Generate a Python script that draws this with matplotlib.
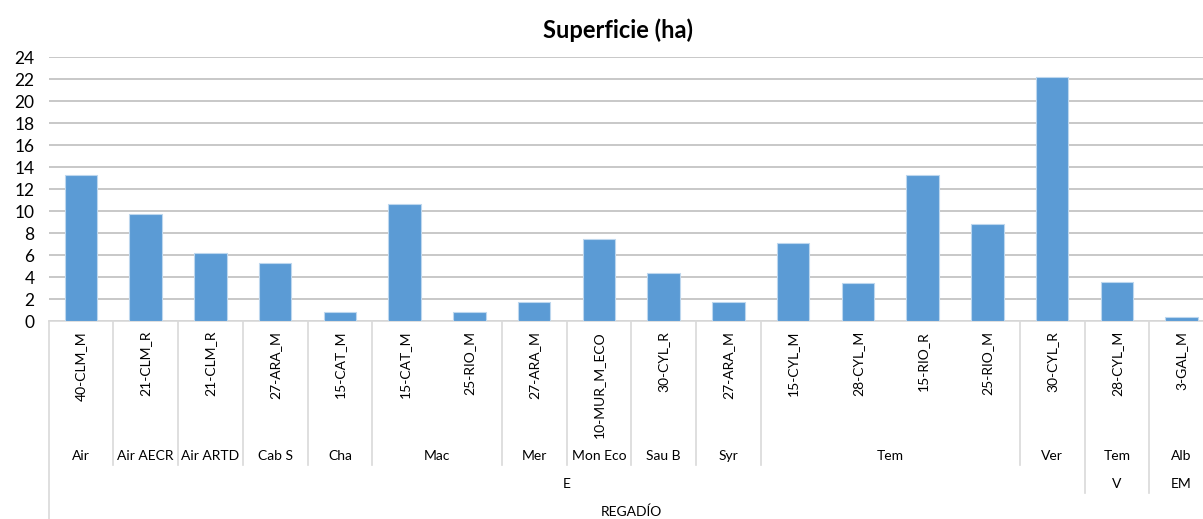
import matplotlib
matplotlib.use("Agg")
import matplotlib.pyplot as plt
import matplotlib.transforms as mtransforms

leaf_labels = ["40-CLM_M", "21-CLM_R", "21-CLM_R", "27-ARA_M", "15-CAT_M",
               "15-CAT_M", "25-RIO_M", "27-ARA_M", "10-MUR_M_ECO", "30-CYL_R",
               "27-ARA_M", "15-CYL_M", "28-CYL_M", "15-RIO_R", "25-RIO_M",
               "30-CYL_R", "28-CYL_M", "3-GAL_M"]
values = [13.3, 9.75, 6.15, 5.3, 0.85, 10.6, 0.85, 1.75, 7.5, 4.4,
          1.75, 7.05, 3.5, 13.3, 8.85, 22.15, 3.55, 0.4]
level2 = [("Air", 1), ("Air AECR", 1), ("Air ARTD", 1), ("Cab S", 1), ("Cha", 1),
          ("Mac", 2), ("Mer", 1), ("Mon Eco", 1), ("Sau B", 1), ("Syr", 1),
          ("Tem", 4), ("Ver", 1), ("Tem", 1), ("Alb", 1)]
level3 = [("E", 16), ("V", 1), ("EM", 1)]
level4 = [("REGADÍO", 18)]
yticks = list(range(0, 25, 2))

W, H = 1203, 519
plt.rcParams['font.family'] = ['Lato', 'DejaVu Sans']
fig = plt.figure(figsize=(W / 100, H / 100), dpi=100)

x0, x1 = 48.5, 48.5 + 18 * 64.75
y_top, y_zero = 57, 321
ax = fig.add_axes([x0 / W, 1 - y_zero / H, (x1 - x0) / W, (y_zero - y_top) / H])

n = len(values)
xs = list(range(n))
ax.bar(xs, values, width=0.5, color="#5B9BD5", edgecolor="#BDD7EE", linewidth=0.8, zorder=3)
ax.set_xlim(-0.5, n - 0.5)
ax.set_ylim(0, 24)
ax.set_yticks(yticks)
ax.set_yticklabels([str(t) for t in yticks], fontsize=12.5)
ax.tick_params(axis='y', length=0, pad=10)
ax.set_xticks([])
ax.grid(axis='y', color="#BFBFBF", linewidth=1.2, zorder=0)
for s in ["top", "right", "left"]:
    ax.spines[s].set_visible(False)
ax.spines["bottom"].set_color("#D9D9D9")
ax.spines["bottom"].set_linewidth(1.2)

tr = mtransforms.blended_transform_factory(ax.transData, fig.transFigure)
def fy(py):
    return 1 - py / H

sep_color = "#D9D9D9"
lab_fs = 10
for i, lab in enumerate(leaf_labels):
    ax.text(i, fy(331), lab, transform=tr, rotation=90, ha="center", va="top",
            fontsize=lab_fs, color="#000000")

pos = 0
for lab, cnt in level2:
    ax.text(pos - 0.5 + cnt / 2, fy(456), lab, transform=tr, ha="center", va="center",
            fontsize=lab_fs)
    pos += cnt
pos = 0
for lab, cnt in level3:
    ax.text(pos - 0.5 + cnt / 2, fy(484), lab, transform=tr, ha="center", va="center",
            fontsize=lab_fs)
    pos += cnt
for lab, cnt in level4:
    ax.text(-0.5 + cnt / 2, fy(512), lab, transform=tr, ha="center", va="center",
            fontsize=lab_fs)

b2 = set()
pos = 0
for lab, cnt in level2:
    pos += cnt
    b2.add(pos)
b3 = set()
pos = 0
for lab, cnt in level3:
    pos += cnt
    b3.add(pos)
for b in sorted(b2):
    if b >= n:
        continue
    end = 493 if b in b3 else 465
    ax.plot([b - 0.5, b - 0.5], [fy(321), fy(end)], transform=tr, color=sep_color,
            linewidth=1.2, clip_on=False)
ax.plot([-0.5, -0.5], [fy(321), fy(519)], transform=tr, color=sep_color,
        linewidth=1.2, clip_on=False)

fig.text(618 / W, fy(30), "Superficie (ha)", ha="center", va="center",
         fontsize=17, fontweight="bold")

fig.savefig("out.png", dpi=100, facecolor="white")
